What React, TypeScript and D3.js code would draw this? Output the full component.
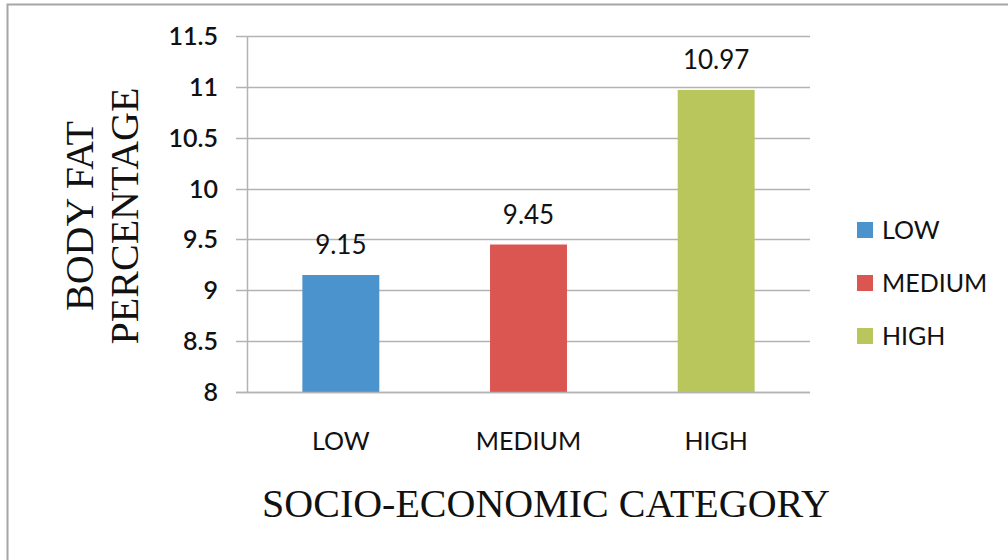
import React, { useEffect, useRef } from "react";
import * as d3 from "d3";

const categories = ["LOW", "MEDIUM", "HIGH"];
const values = [9.15, 9.45, 10.97];
const colors = ["#4a93cc", "#db5651", "#b8c65b"];
const yTicks = [8, 8.5, 9, 9.5, 10, 10.5, 11, 11.5];

const W = 1008;
const H = 560;
const sans = "Lato, 'Open Sans', 'DejaVu Sans', sans-serif";
const serif = "'Liberation Serif', 'DejaVu Serif', serif";

export default function App() {
  const ref = useRef<SVGSVGElement>(null);
  useEffect(() => {
    const svg = d3.select(ref.current);
    svg.selectAll("*").remove();
    svg.append("rect").attr("width", W).attr("height", H).attr("fill", "#fff");
    // frame
    svg.append("path").attr("d", `M7.5,${H} V4.5 H${W}`).attr("fill", "none").attr("stroke", "#a6a6a6").attr("stroke-width", 2);

    const x = d3.scaleBand().domain(categories).range([247, 810]).paddingInner(0.59).paddingOuter(0.295);
    const y = d3.scaleLinear().domain([8, 11.5]).range([392, 36]);

    const g = svg.append("g");
    yTicks.forEach((t) => {
      g.append("line").attr("x1", 236).attr("x2", 810).attr("y1", Math.round(y(t)) + 0.5).attr("y2", Math.round(y(t)) + 0.5)
        .attr("stroke", "#b3b3b3").attr("stroke-width", 1.5);
      g.append("text").attr("x", 218).attr("y", y(t)).attr("dy", "0.36em").attr("text-anchor", "end")
        .attr("font-family", sans).attr("font-size", 25).attr("font-weight", 600).attr("fill", "#111").text(String(t));
    });
    g.append("line").attr("x1", 247.5).attr("x2", 247.5).attr("y1", 36).attr("y2", 392).attr("stroke", "#b3b3b3").attr("stroke-width", 1.5);

    categories.forEach((c, i) => {
      const bx = x(c)!;
      g.append("rect").attr("x", bx).attr("width", x.bandwidth()).attr("y", y(values[i])).attr("height", y(8) - y(values[i])).attr("fill", colors[i]);
      g.append("text").attr("x", bx + x.bandwidth() / 2).attr("y", y(values[i]) - 21).attr("text-anchor", "middle")
        .attr("font-family", sans).attr("font-size", 26).attr("fill", "#111").text(values[i].toFixed(2));
      g.append("text").attr("x", bx + x.bandwidth() / 2).attr("y", 450).attr("text-anchor", "middle")
        .attr("font-family", sans).attr("font-size", 25).attr("fill", "#111").text(c);
    });
    g.append("line").attr("x1", 236).attr("x2", 810).attr("y1", 392.5).attr("y2", 392.5).attr("stroke", "#b3b3b3").attr("stroke-width", 1.5);

    // y title
    const yt = svg.append("text").attr("transform", "translate(0,216) rotate(-90)").attr("text-anchor", "middle")
      .attr("font-family", serif).attr("font-size", 40).attr("fill", "#111");
    yt.append("tspan").attr("x", 0).attr("y", 93).text("BODY FAT");
    yt.append("tspan").attr("x", 0).attr("y", 138).text("PERCENTAGE");

    svg.append("text").attr("x", 546).attr("y", 517).attr("text-anchor", "middle").attr("font-family", serif)
      .attr("font-size", 40).attr("fill", "#111").text("SOCIO-ECONOMIC CATEGORY");

    // legend
    categories.forEach((c, i) => {
      const ly = 230 + i * 53;
      svg.append("rect").attr("x", 857).attr("y", ly - 8).attr("width", 16).attr("height", 16).attr("fill", colors[i]);
      svg.append("text").attr("x", 882).attr("y", ly).attr("dy", "0.36em").attr("font-family", sans).attr("font-size", 25)
        .attr("fill", "#111").text(c);
    });
  }, []);
  return (
    <svg ref={ref} width={W} height={H} style={{ position: "absolute", left: 0, top: 0, display: "block" }} />
  );
}
